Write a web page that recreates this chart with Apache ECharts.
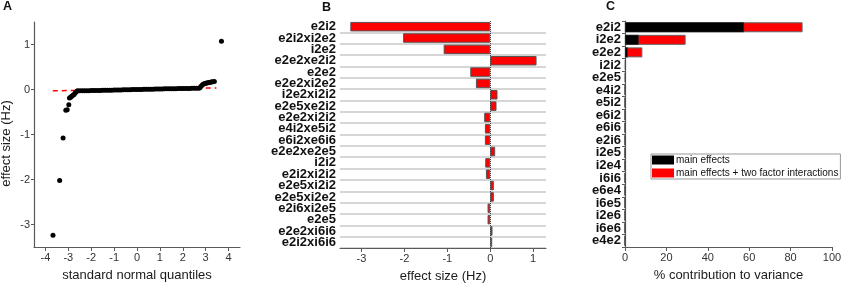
<!DOCTYPE html>
<html>
<head>
<meta charset="utf-8">
<script src="https://cdn.jsdelivr.net/npm/echarts@6/dist/echarts.min.js"></script>
<style>
html, body { margin: 0; padding: 0; background: #fff; }
#chart { width: 843px; height: 285px; }
</style>
</head>
<body>
<div id="chart"></div>
<script>
// panel A: normal quantile plot of all effects
const qqPoints = [
    [-3.67, -3.24], [-3.38, -2.02], [-3.23, -1.08], [-3.11, -0.46], [-3.05, -0.45], [-2.98, -0.34],
    [-2.95, -0.19], [-2.9, -0.17], [-2.85, -0.15], [-2.8, -0.13], [-2.75, -0.11], [-2.7, -0.08],
    [-2.65, -0.05], [-2.6, -0.03], [-2.5, -0.029], [-2.4, -0.028], [-2.3, -0.027], [-2.2, -0.026],
    [-2.1, -0.025], [-2.0, -0.024], [-1.9, -0.023], [-1.8, -0.022], [-1.7, -0.021], [-1.6, -0.02],
    [-1.5, -0.019], [-1.4, -0.018], [-1.3, -0.017], [-1.2, -0.016], [-1.1, -0.014], [-1.0, -0.013],
    [-0.9, -0.012], [-0.8, -0.011], [-0.7, -0.009], [-0.6, -0.008], [-0.5, -0.006], [-0.4, -0.005],
    [-0.3, -0.004], [-0.2, -0.002], [-0.1, -0.001], [0, 0], [0.1, 0.001], [0.2, 0.002],
    [0.3, 0.004], [0.4, 0.005], [0.5, 0.006], [0.6, 0.007], [0.7, 0.008], [0.8, 0.01],
    [0.9, 0.011], [1.0, 0.012], [1.1, 0.013], [1.2, 0.014], [1.3, 0.015], [1.4, 0.016],
    [1.5, 0.017], [1.6, 0.018], [1.7, 0.019], [1.8, 0.02], [1.9, 0.021], [2.0, 0.022],
    [2.1, 0.023], [2.2, 0.024], [2.3, 0.025], [2.4, 0.026], [2.5, 0.028], [2.6, 0.029],
    [2.7, 0.03], [2.75, 0.04], [2.8, 0.07], [2.85, 0.1], [2.9, 0.12], [2.95, 0.13],
    [3.0, 0.14], [3.05, 0.145], [3.1, 0.15], [3.15, 0.155], [3.2, 0.16], [3.25, 0.165],
    [3.3, 0.17], [3.38, 0.18], [3.69, 1.07]
];
const qqRefLine = [[-3.68, -0.03], [3.47, 0.035]];
const qqTicks = [-4, -3, -2, -1, 0, 1, 2, 3, 4];
const qqYTicks = [-3, -2, -1, 0, 1];

// panel B: largest effects
const effectNames = ['e2i2', 'e2i2xi2e2', 'i2e2', 'e2e2xe2i2', 'e2e2', 'e2e2xi2e2', 'i2e2xi2i2',
    'e2e5xe2i2', 'e2e2xi2i2', 'e4i2xe5i2', 'e6i2xe6i6', 'e2e2xe2e5', 'i2i2', 'e2i2xi2i2',
    'e2e5xi2i2', 'e2e5xi2e2', 'e2i6xi2e5', 'e2e5', 'e2e2xi6i6', 'e2i2xi6i6'];
const effectValues = [-3.26, -2.03, -1.085, 1.08, -0.465, -0.333, 0.17,
    0.147, -0.14, -0.124, -0.124, 0.116, -0.116, -0.1,
    0.085, 0.085, -0.062, -0.062, 0.054, 0.047];
const effectTicks = [-3, -2, -1, 0, 1];

// panel C: contribution to variance
const varNames = ['e2i2', 'i2e2', 'e2e2', 'i2i2', 'e2e5', 'e4i2', 'e5i2', 'e6i2', 'e6i6',
    'e2i6', 'i2e5', 'i2e4', 'i6i6', 'e6e4', 'i6e5', 'i2e6', 'i6e6', 'e4e2'];
const mainPct = [57.5, 6.6, 1.3, 0.2, 0.15, 0.05, 0.05, 0.03, 0.03,
    0.02, 0.02, 0.02, 0.01, 0.01, 0.01, 0.01, 0.01, 0.01];
const totalPct = [85.8, 29.3, 8.4, 0.5, 0.35, 0.1, 0.08, 0.06, 0.05,
    0.04, 0.04, 0.03, 0.03, 0.02, 0.02, 0.02, 0.02, 0.02];

const font = 'Liberation Sans, Arial, sans-serif';
const axisGrey = '#5a5a5a';

function valueAxis(grid, min, max, ticks, name, gap) {
    return {
        type: 'value',
        gridIndex: grid,
        min: min,
        max: max,
        name: name,
        nameLocation: 'middle',
        nameGap: gap,
        nameTextStyle: { fontFamily: font, fontSize: 13, color: '#1a1a1a' },
        axisLine: { show: true, onZero: false, lineStyle: { color: axisGrey, width: 1.2 } },
        axisTick: { show: true, length: 4, customValues: ticks, lineStyle: { color: axisGrey } },
        axisLabel: { customValues: ticks, fontFamily: font, fontSize: 11, color: '#333', margin: 5 },
        splitLine: { show: false }
    };
}

const yA = valueAxis(0, -3.5, 1.5, qqYTicks, 'effect size (Hz)', 21);
yA.axisLabel.margin = 4;
yA.axisTick.length = 3;
yA.nameTextStyle.padding = [0, 18, 0, 0];

const option = {
    animation: false,
    textStyle: { fontFamily: font },
    title: [
        { text: 'A', left: 3, top: 0, padding: 0, textStyle: { fontSize: 12.5, fontWeight: 'bold', color: '#111' } },
        { text: 'B', left: 322, top: 1, padding: 0, textStyle: { fontSize: 12.5, fontWeight: 'bold', color: '#111' } },
        { text: 'C', left: 606, top: 0, padding: 0, textStyle: { fontSize: 12.5, fontWeight: 'bold', color: '#111' } }
    ],
    grid: [
        { left: 34, top: 22, width: 206, height: 225, outerBoundsMode: 'none' },
        { left: 340, top: 21, width: 206, height: 227, outerBoundsMode: 'none' },
        { left: 625, top: 21, width: 207, height: 226, outerBoundsMode: 'none' }
    ],
    legend: {
        data: ['main effects', 'main effects + two factor interactions'],
        orient: 'vertical',
        left: 651,
        top: 154,
        icon: 'rect',
        itemWidth: 22,
        itemHeight: 9,
        itemGap: 3,
        padding: [1, 2, 1, 1],
        borderColor: '#999',
        borderWidth: 1,
        itemStyle: { borderWidth: 0 },
        textStyle: { fontFamily: font, fontSize: 10, color: '#111', padding: [0, 0, 0, -3] }
    },
    xAxis: [
        valueAxis(0, -4.5, 4.5, qqTicks, 'standard normal quantiles', 22),
        valueAxis(1, -3.5, 1.3, effectTicks, 'effect size (Hz)', 22),
        {
            type: 'value',
            gridIndex: 2,
            min: 0,
            max: 100,
            interval: 20,
            name: '% contribution to variance',
            nameLocation: 'middle',
            nameGap: 22,
            nameTextStyle: { fontFamily: font, fontSize: 13, color: '#1a1a1a' },
            axisLine: { show: true, lineStyle: { color: axisGrey, width: 1.2 } },
            axisTick: { show: true, length: 4, lineStyle: { color: axisGrey } },
            axisLabel: { fontFamily: font, fontSize: 11, color: '#333', margin: 5 },
            splitLine: { show: false }
        }
    ],
    yAxis: [
        yA,
        {
            type: 'category',
            gridIndex: 1,
            data: effectNames,
            inverse: true,
            axisLine: { show: false },
            axisTick: { show: false },
            axisLabel: { interval: 0, fontFamily: font, fontSize: 13, fontWeight: 'bold', color: '#111', margin: 4 },
            splitLine: {
                show: true,
                interval: function (index) { return index > 0; },
                lineStyle: { color: '#c8c8c8', width: 1.5 }
            }
        },
        {
            type: 'category',
            gridIndex: 2,
            data: varNames,
            inverse: true,
            axisLine: { show: true, lineStyle: { color: axisGrey, width: 1.2 } },
            axisTick: { show: true, interval: 0, length: 3, lineStyle: { color: axisGrey } },
            axisLabel: { interval: 0, fontFamily: font, fontSize: 13, fontWeight: 'bold', color: '#111', margin: 4 },
            splitLine: { show: false }
        }
    ],
    series: [
        {
            type: 'line',
            xAxisIndex: 0,
            yAxisIndex: 0,
            data: qqRefLine,
            symbol: 'none',
            z: 1,
            lineStyle: { color: '#ff0000', width: 1.5, type: [5, 4] }
        },
        {
            type: 'scatter',
            xAxisIndex: 0,
            yAxisIndex: 0,
            data: qqPoints,
            symbolSize: 5,
            z: 2,
            itemStyle: { color: '#000', opacity: 1 }
        },
        {
            type: 'bar',
            xAxisIndex: 1,
            yAxisIndex: 1,
            data: effectValues,
            barWidth: 9.5,
            itemStyle: { color: '#ff0000', borderColor: '#555', borderWidth: 1 },
            markLine: {
                silent: true,
                symbol: ['none', 'none'],
                label: { show: false },
                lineStyle: { color: '#444', type: 'dotted', width: 1 },
                data: [{ xAxis: 0 }]
            }
        },
        {
            type: 'bar',
            name: 'main effects + two factor interactions',
            xAxisIndex: 2,
            yAxisIndex: 2,
            data: totalPct,
            barWidth: 10,
            barGap: '-100%',
            itemStyle: { color: '#ff0000', borderColor: '#666', borderWidth: 1 }
        },
        {
            type: 'bar',
            name: 'main effects',
            xAxisIndex: 2,
            yAxisIndex: 2,
            data: mainPct,
            barWidth: 10,
            barGap: '-100%',
            itemStyle: { color: '#000', borderColor: '#333', borderWidth: 0.5 }
        }
    ]
};

echarts.init(document.getElementById('chart')).setOption(option);
</script>
</body>
</html>
